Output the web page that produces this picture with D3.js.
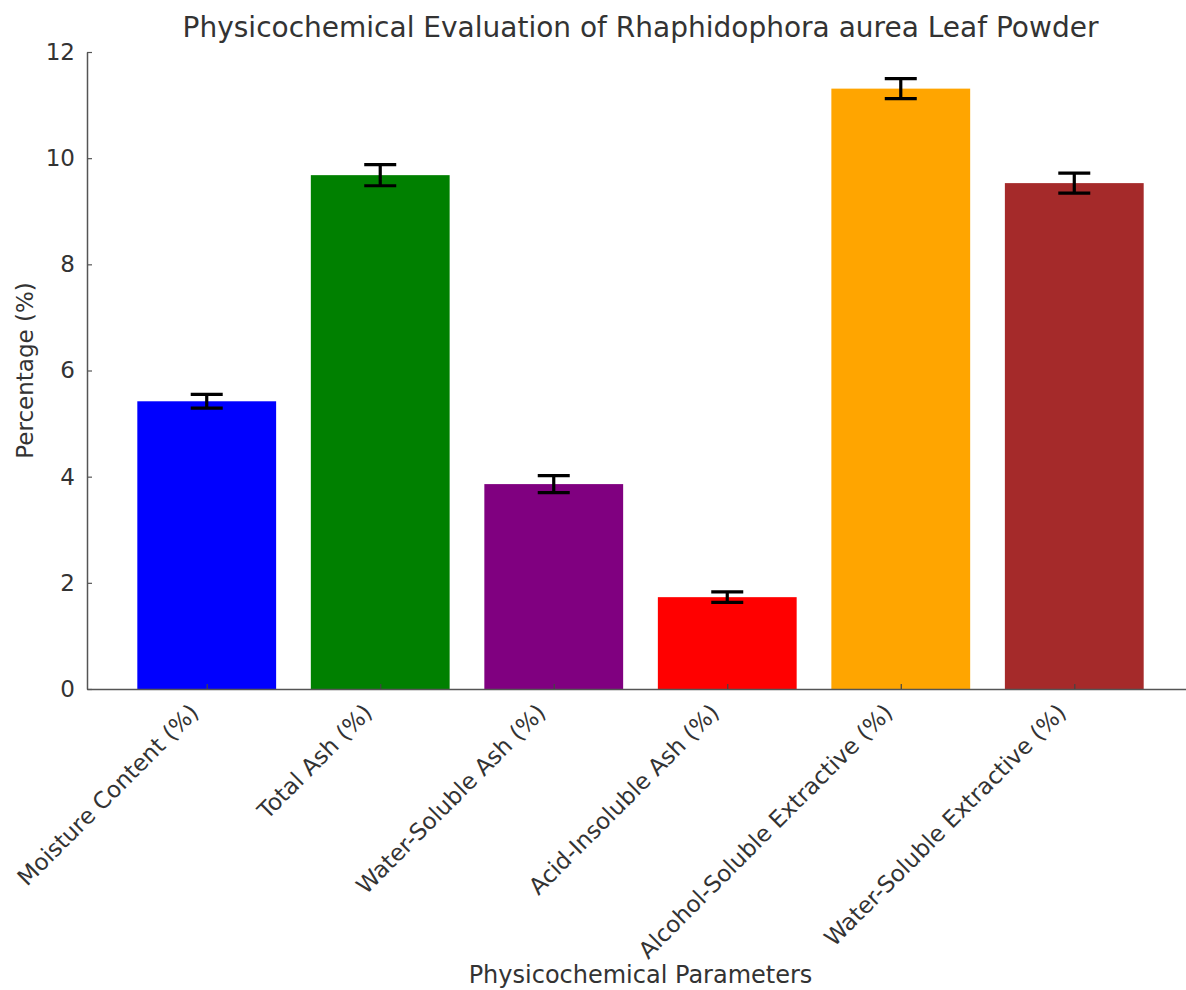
<!DOCTYPE html>
<html>
<head>
<meta charset="utf-8">
<script src="https://cdn.jsdelivr.net/npm/d3@7"></script>
<style>
  body { margin: 0; background: #fff; }
  svg, svg text { font-family: "DejaVu Sans", sans-serif; }
  svg { display: block; }
  .tick text { fill: #333; }
</style>
</head>
<body>
<div id="chart"></div>
<script>
// Chart values.
var categories = [
    'Moisture Content (%)',
    'Total Ash (%)',
    'Water-Soluble Ash (%)',
    'Acid-Insoluble Ash (%)',
    'Alcohol-Soluble Extractive (%)',
    'Water-Soluble Extractive (%)'
];
var values = [5.42, 9.68, 3.86, 1.73, 11.31, 9.53];
var errors = [0.13, 0.20, 0.16, 0.10, 0.19, 0.19];
var colors = ['blue', 'green', 'purple', 'red', 'orange', 'brown'];
var yTicks = [0, 2, 4, 6, 8, 10, 12];

var W = 1186, H = 990;
var margin = {left: 87, top: 52, bottom: 301};
var plotH = H - margin.top - margin.bottom;
var xRight = 1194;

var svg = d3.select('#chart')
    .append('svg')
        .attr('width', W)
        .attr('height', H);

// Matplotlib-like x range: bars at 0..5, width 0.8, 5% margins.
var x = d3.scaleLinear()
    .domain([-0.69, 5.69])
    .range([margin.left, xRight]);
var barW = x(0.8) - x(0);

var y = d3.scaleLinear()
    .domain([0, 12])
    .range([margin.top + plotH, margin.top]);

var data = categories.map(function(c, i){
    return {name: c, value: values[i], err: errors[i], color: colors[i], i: i};
});

// Bars.
svg.selectAll('rect.bar')
    .data(data)
    .enter().append('rect')
        .attr('class', 'bar')
        .attr('x', function(d){ return x(d.i) - barW / 2; })
        .attr('y', function(d){ return y(d.value); })
        .attr('width', barW)
        .attr('height', function(d){ return y(0) - y(d.value); })
        .attr('fill', function(d){ return d.color; });

// Error bars.
var capW = 16;
var eb = svg.selectAll('g.err')
    .data(data)
    .enter().append('g')
        .attr('class', 'err')
        .attr('stroke', '#000')
        .attr('stroke-width', 3.2);
eb.append('line')
    .attr('x1', function(d){ return x(d.i); })
    .attr('x2', function(d){ return x(d.i); })
    .attr('y1', function(d){ return y(d.value - d.err); })
    .attr('y2', function(d){ return y(d.value + d.err); });
eb.append('line')
    .attr('x1', function(d){ return x(d.i) - capW; })
    .attr('x2', function(d){ return x(d.i) + capW; })
    .attr('y1', function(d){ return y(d.value + d.err); })
    .attr('y2', function(d){ return y(d.value + d.err); });
eb.append('line')
    .attr('x1', function(d){ return x(d.i) - capW; })
    .attr('x2', function(d){ return x(d.i) + capW; })
    .attr('y1', function(d){ return y(d.value - d.err); })
    .attr('y2', function(d){ return y(d.value - d.err); });

// Y axis, ticks pointing inward.
var yAxis = svg.append('g')
    .attr('transform', 'translate(' + margin.left + ', 0)')
    .call(d3.axisLeft(y).tickValues(yTicks).tickSize(-5).tickSizeOuter(0).tickPadding(12));
yAxis.attr('font-family', null);
yAxis.select('.domain').attr('stroke', '#555').attr('stroke-width', 1.5);
yAxis.selectAll('.tick line').attr('stroke', '#555').attr('stroke-width', 1.2);
yAxis.selectAll('.tick text').attr('font-size', '23px');

// X axis.
var xAxis = svg.append('g')
    .attr('transform', 'translate(0, ' + y(0) + ')')
    .call(d3.axisBottom(x).tickValues(d3.range(categories.length))
        .tickFormat(function(d){ return categories[d]; })
        .tickSize(-5).tickSizeOuter(0).tickPadding(10));
xAxis.attr('font-family', null);
xAxis.select('.domain').attr('stroke', '#555').attr('stroke-width', 1.5);
xAxis.selectAll('.tick line').attr('stroke', '#444').attr('stroke-width', 1.2);
xAxis.selectAll('.tick text')
    .attr('font-size', '23px')
    .attr('text-anchor', 'end')
    .attr('dy', '0.3em')
    .attr('transform', 'translate(-12, 20) rotate(-45)')
    .attr('y', 0)
    .attr('x', 0);

// Axis titles.
svg.append('text')
    .attr('x', (margin.left + xRight) / 2)
    .attr('y', 983)
    .attr('text-anchor', 'middle')
    .attr('font-size', '24px')
    .attr('fill', '#333')
    .text('Physicochemical Parameters');

svg.append('text')
    .attr('transform', 'translate(33, ' + y(6) + ') rotate(-90)')
    .attr('text-anchor', 'middle')
    .attr('font-size', '23px')
    .attr('fill', '#333')
    .text('Percentage (%)');

// Chart title.
svg.append('text')
    .attr('x', (margin.left + xRight) / 2)
    .attr('y', 37)
    .attr('text-anchor', 'middle')
    .attr('font-size', '28px')
    .attr('fill', '#333')
    .text('Physicochemical Evaluation of Rhaphidophora aurea Leaf Powder');
</script>
</body>
</html>
